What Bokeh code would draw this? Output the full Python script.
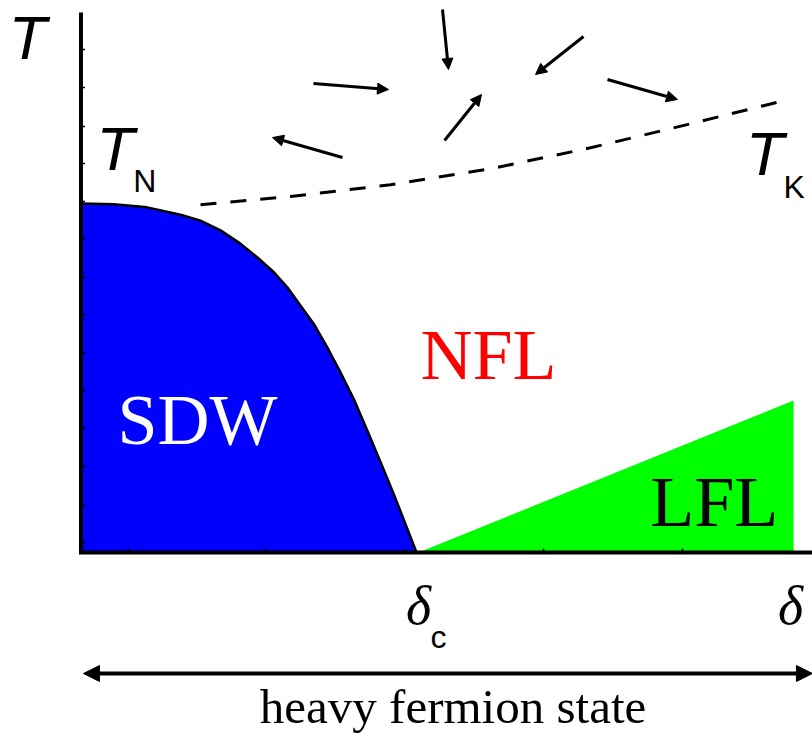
import math
from bokeh.plotting import figure
from bokeh.models import Range1d, ColumnDataSource, Arrow, NormalHead
from bokeh.core.properties import value
from bokeh.embed import file_html
from bokeh.resources import INLINE

# ---- data (schematic units: delta/delta_c, T/T_N) ----
sdw_delta = [0.0, 0.098, 0.197, 0.297, 0.356, 0.416, 0.475, 0.525, 0.575, 0.615,
             0.654, 0.694, 0.734, 0.773, 0.813, 0.853, 0.893, 0.932, 0.967, 1.0]
sdw_T = [1.0, 0.998, 0.989, 0.968, 0.951, 0.923, 0.885, 0.846, 0.803, 0.760,
         0.708, 0.655, 0.588, 0.517, 0.440, 0.350, 0.259, 0.168, 0.082, 0.0]

lfl_delta = [1.006, 2.124, 2.124]
lfl_T = [0.0, 0.4355, 0.0]

tk_delta = [0.3562, 0.6244, 0.9225, 1.2206, 1.5186, 1.8167, 2.0849]
tk_T = [0.9963, 1.0201, 1.0536, 1.0994, 1.1596, 1.2284, 1.2923]

spin_x0 = [1.0775, 0.6930, 0.7794, 1.0835, 1.4978, 1.5693]
spin_y0 = [1.5559, 1.3438, 1.1318, 1.1805, 1.4785, 1.3553]
spin_x1 = [1.0954, 0.9165, 0.5708, 1.1937, 1.3547, 1.7779]
spin_y1 = [1.3840, 1.3266, 1.1891, 1.3123, 1.3696, 1.2980]

y_ticks = [0.0287, 0.1375, 0.2464, 0.3553, 0.4642, 0.5731, 0.6819, 0.788,
           0.900, 1.0057, 1.1146, 1.2206, 1.3324, 1.4413]
x_ticks = [0.1416, 0.5499, 0.9672, 1.3785, 1.7928]

axis_T_top = 1.5473
axis_delta_end = 2.1803

hf_arrow_delta = [0.0075, 2.180]
hf_arrow_T = -0.3467

p = figure(width=812, height=733,
           x_range=Range1d(-0.2399, 2.1803), y_range=Range1d(-0.5186, 1.5817),
           output_backend="svg", toolbar_location=None, min_border=0,
           x_axis_location=None, y_axis_location=None)
p.grid.visible = False
p.outline_line_color = None
p.background_fill_color = "white"
p.border_fill_color = "white"

# SDW region
p.patch(x=sdw_delta + [0.0], y=sdw_T + [0.0], fill_color="#0000ff", line_color=None)
# LFL region
p.patch(x=lfl_delta, y=lfl_T, fill_color="#00ff00", line_color=None)
# SDW boundary
p.line(x=sdw_delta, y=sdw_T, line_color="black", line_width=2.5, line_join="round")

# axes
p.line(x=[0, 0], y=[0, axis_T_top], line_color="black", line_width=4)
p.line(x=[-0.006, axis_delta_end], y=[0, 0], line_color="black", line_width=4)
p.ray(x=[0] * len(y_ticks), y=y_ticks, length=4, length_units="screen", angle=0,
      line_color="black", line_width=1.5)
p.ray(x=x_ticks, y=[0] * len(x_ticks), length=4, length_units="screen", angle=math.pi / 2,
      line_color="black", line_width=1.5)

# T_K crossover (dashed)
p.line(x=tk_delta, y=tk_T, line_color="black", line_width=3, line_dash="16 14")

# spin arrows
src = ColumnDataSource(dict(x0=spin_x0, y0=spin_y0, x1=spin_x1, y1=spin_y1))
p.add_layout(Arrow(end=NormalHead(size=11, fill_color="black", line_color="black", line_width=1),
                   x_start="x0", y_start="y0", x_end="x1", y_end="y1", source=src,
                   line_color="black", line_width=3))

# heavy fermion double arrow
p.add_layout(Arrow(start=NormalHead(size=16, fill_color="black", line_color="black", line_width=1),
                   end=NormalHead(size=16, fill_color="black", line_color="black", line_width=1),
                   x_start=hf_arrow_delta[0], y_start=hf_arrow_T,
                   x_end=hf_arrow_delta[1], y_end=hf_arrow_T,
                   line_color="black", line_width=4))

serif = value("Liberation Serif")
sans = value("Liberation Sans")

# region labels
p.text(x=[1.012], y=[0.566], text=["NFL"], text_font=serif, text_font_size="72px",
       text_color="#ff0000", text_baseline="alphabetic", text_align="left")
p.text(x=[0.109], y=[0.380], text=["SDW"], text_font=serif, text_font_size="72px",
       text_color="white", text_baseline="alphabetic", text_align="left")
p.text(x=[1.697], y=[0.145], text=["LFL"], text_font=serif, text_font_size="72px",
       text_color="black", text_baseline="alphabetic", text_align="left")

# T labels (italic sans)
p.text(x=[-0.215, 0.046, 1.982], y=[1.476, 1.158, 1.143], text=["T", "T", "T"],
       text_font=sans, text_font_style="italic", text_font_size="62px",
       text_color="black", text_baseline="alphabetic", text_align="left")
# subscripts
p.text(x=[0.156, 2.094, 1.042], y=[1.065, 1.047, -0.242], text=["N", "K", "c"],
       text_font=sans, text_font_size="32px",
       text_color="black", text_baseline="alphabetic", text_align="left")
# delta labels
p.text(x=[1.006, 2.115], y=[-0.152, -0.152], text=["δ", "δ"],
       text_font=serif, text_font_style="italic", text_font_size="54px",
       text_color="black", text_baseline="alphabetic", text_align="center")
# heavy fermion state
p.text(x=[1.109], y=[-0.440], text=["heavy fermion state"], text_font=serif,
       text_font_size="49px", text_color="black", text_baseline="alphabetic",
       text_align="center")

open("out.html", "w").write(file_html(p, INLINE))
